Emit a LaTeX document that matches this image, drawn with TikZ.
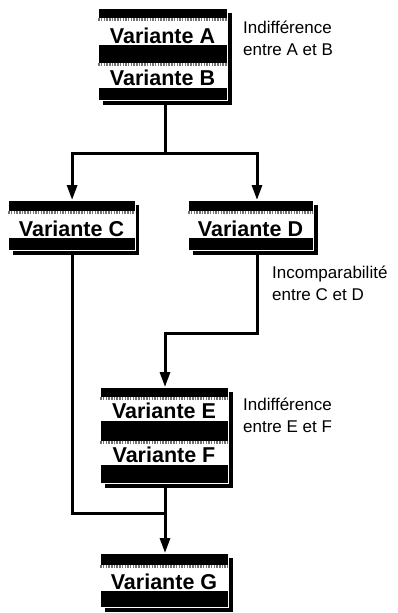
\documentclass[tikz,border=0pt]{standalone}
\usepackage{fontspec}
\setmainfont{Liberation Sans}
\usetikzlibrary{arrows.meta}
\tikzset{
  boxbg/.style={rectangle, fill=black, draw=white, line width=1.2pt, inner sep=0pt, anchor=north west, minimum width=129pt},
  shadowbox/.style={fill=black},
  stripe/.style={rectangle, fill=white, inner sep=0pt, anchor=north west, minimum width=129pt,
    path picture={\draw[black!55, line width=3pt, dash pattern=on 1.5pt off 1.2pt]
      ([yshift=-1.5pt]path picture bounding box.north west) -- ([yshift=-1.5pt]path picture bounding box.north east);}},
  vlabel/.style={font=\fontsize{21.5}{24}\selectfont\bfseries, anchor=base, inner sep=0pt, text=black},
  note/.style={font=\fontsize{17}{21.7}\selectfont, align=left, anchor=base west, inner sep=0pt},
  conn/.style={line width=3pt, line join=miter},
  arr/.style={conn, -{Triangle[length=15pt,width=10pt]}},
}
\begin{document}
\begin{tikzpicture}[x=1pt,y=-1pt]
\useasboundingbox[fill=white] (0,0) rectangle (398,613);

% ---- Box A/B
\fill[shadowbox] (103,13) rectangle (232,105);
\node[boxbg, minimum height=92pt] (AB) at (98,8) {};
\node[stripe, minimum height=27pt] (sA) at (98,18) {};
\node[stripe, minimum height=25pt] (sB) at (98,63) {};
\node[vlabel] (A) at (162.5,43) {Variante A};
\node[vlabel] (B) at (162.5,85) {Variante B};
\node[note] (nAB) at (243,55) {Indifférence\\entre A et B};

% ---- Box C
\fill[shadowbox] (13,205) rectangle (139,255);
\node[boxbg, minimum height=50pt, minimum width=127pt] (C) at (8,200) {};
\node[stripe, minimum height=27pt, minimum width=127pt] (sC) at (8,211) {};
\node[vlabel] (tC) at (71.5,236) {Variante C};

% ---- Box D
\fill[shadowbox] (193,205) rectangle (318,255);
\node[boxbg, minimum height=50pt, minimum width=125pt] (D) at (188,200) {};
\node[stripe, minimum height=27pt, minimum width=125pt] (sD) at (188,211) {};
\node[vlabel] (tD) at (250.5,236) {Variante D};
\node[note] (nCD) at (272,300) {Incomparabilité\\entre C et D};

% ---- Box E/F
\fill[shadowbox] (105,392) rectangle (233,488);
\node[boxbg, minimum height=96pt, minimum width=128pt] (E) at (100,387) {};
\node[stripe, minimum height=24pt, minimum width=128pt] (sE) at (100,397) {};
\node[stripe, minimum height=24pt, minimum width=128pt] (sF) at (100,441) {};
\node[vlabel] (tE) at (164,418) {Variante E};
\node[vlabel] (tF) at (164,462) {Variante F};
\node[note] (nEF) at (243,432) {Indifférence\\entre E et F};

% ---- Box G
\fill[shadowbox] (105,558) rectangle (233,612);
\node[boxbg, minimum height=54pt, minimum width=128pt] (G) at (100,553) {};
\node[stripe, minimum height=26pt, minimum width=128pt] (sG) at (100,565) {};
\node[vlabel] (tG) at (164,589) {Variante G};

% ---- connectors
\coordinate (xm) at (165,0);
\coordinate (xd) at (257,0);
\coordinate (j1) at (165,153);
\coordinate (j3) at (165,333);
\coordinate (j5) at (165,513);

\draw[conn] (AB.south -| xm) -- (j1);
\draw[arr] (j1) -| (C.north);
\draw[arr] (j1) -| (D.north -| xd);
\draw[arr] (D.south -| xd) |- (j3) -- (E.north -| xm);
\draw[conn] (C.south) |- (j5);
\draw[arr] (E.south -| xm) -- (G.north -| xm);
\end{tikzpicture}
\end{document}
